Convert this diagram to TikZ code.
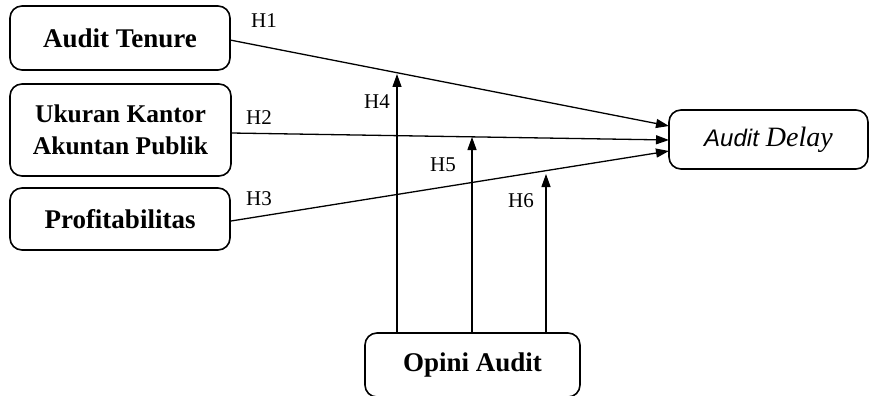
\documentclass[tikz,border=0pt]{standalone}
\usepackage{fontspec}
\setmainfont{Liberation Serif}
\newfontfamily\sansfnt{Liberation Sans}
\usetikzlibrary{arrows.meta}
\tikzset{
  box/.style={draw, line width=1.6pt, rounded corners=12pt, align=center, font=\fontsize{27}{32}\selectfont\bfseries, inner sep=0pt},
  conn/.style={line width=1.3pt, -{Triangle[length=13pt,width=9pt]}},
  hlab/.style={font=\fontsize{21}{24}\selectfont, inner sep=0pt}
}
\begin{document}
\begin{tikzpicture}[x=1pt,y=-1pt]
\useasboundingbox (0,0) rectangle (871,396);
\node[box, minimum width=220pt, minimum height=64pt] (at) at (120,38) {Audit Tenure};
\node[box, minimum width=221pt, minimum height=92pt, font=\fontsize{25.5}{32}\selectfont\bfseries] (uk) at (120.5,130) {Ukuran Kantor\\Akuntan Publik};
\node[box, minimum width=220pt, minimum height=62pt] (pr) at (120,219) {Profitabilitas};
\node[box, minimum width=199pt, minimum height=59pt, font=\fontsize{28}{32}\selectfont] (ad) at (768.5,139.5) {{\sansfnt\itshape\fontsize{24}{26}\selectfont Audit} \itshape Delay};
\node[box, minimum width=215pt, minimum height=64pt] (op) at (472.5,365) {Opini Audit};

\coordinate (e1) at (669,126);
\coordinate (e2) at (669,140);
\coordinate (e3) at (669,151);
\draw[conn] (230,40) -- (e1);
\draw[conn] (231,133) -- (e2);
\draw[conn] (231,221) -- (e3);

\coordinate (t4) at (397,74);
\coordinate (t5) at (472,137);
\coordinate (t6) at (546,174);
\draw[conn] (op.north -| t4) -- (t4);
\draw[conn] (op.north -| t5) -- (t5);
\draw[conn] (op.north -| t6) -- (t6);

\node[hlab] (h1) at (264,21) {H1};
\node[hlab] (h2) at (259,118) {H2};
\node[hlab] (h3) at (259,199) {H3};
\node[hlab] (h4) at (377,102) {H4};
\node[hlab] (h5) at (443,165) {H5};
\node[hlab] (h6) at (521,201) {H6};
\end{tikzpicture}
\end{document}
